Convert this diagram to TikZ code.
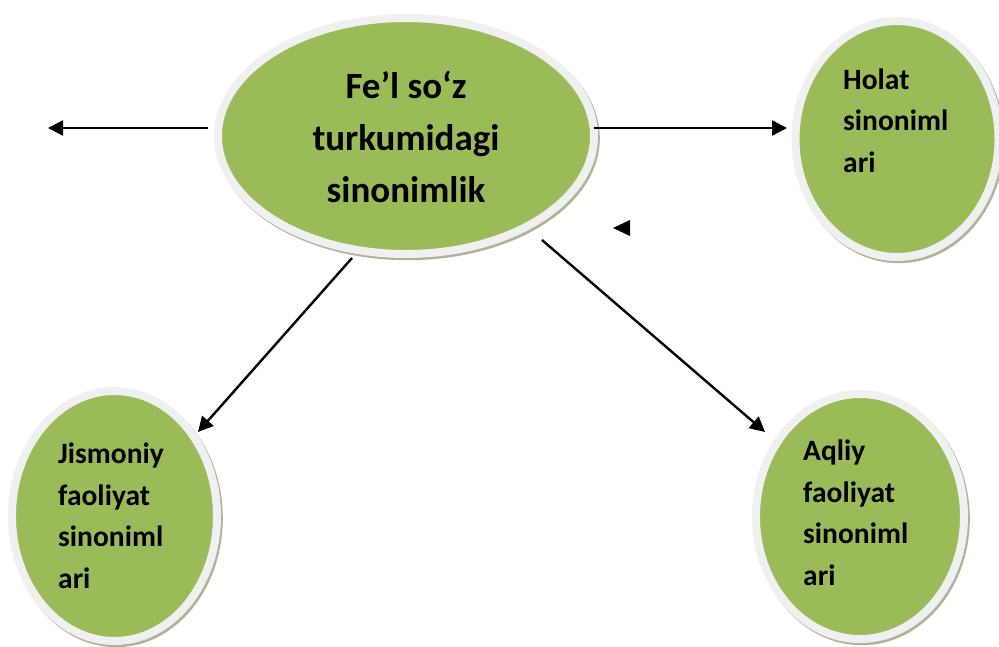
\documentclass[tikz,border=0pt]{standalone}
\usepackage{fontspec}
\setmainfont{Carlito}
\usetikzlibrary{arrows.meta,calc,shadows,shapes.geometric}
\definecolor{bubgreen}{HTML}{9BBB59}
\definecolor{bubrim}{HTML}{F0F0F0}
\definecolor{bubshadow}{HTML}{AEB39A}
\tikzset{
  bub/.style={ellipse, inner sep=0pt, fill=bubgreen, draw=bubrim, line width=8pt,
    drop shadow={shadow xshift=1.8pt, shadow yshift=-2.2pt, fill=bubshadow, draw=bubshadow, line width=8pt, opacity=1}},
  bigtxt/.style={font=\bfseries\fontsize{37}{52}\selectfont, align=center, inner sep=0pt, anchor=base},
  leaftxt/.style={font=\bfseries\fontsize{29.5}{41.5}\selectfont, align=left, inner sep=0pt, anchor=base west},
  arr/.style={line width=2.4pt, -{Triangle[length=15pt,width=15pt]}}
}
\begin{document}
\begin{tikzpicture}[x=1pt,y=-1pt]
\useasboundingbox (0,0) rectangle (999,646);
% bubbles
\node[bub, minimum width=376pt, minimum height=236pt] (c) at (406,136) {};
\node[bub, minimum width=203pt, minimum height=236pt] (holat) at (897,139) {};
\node[bub, minimum width=205pt, minimum height=250pt] (jis) at (114.5,516) {};
\node[bub, minimum width=208pt, minimum height=245pt] (aql) at (860,516.5) {};
% texts (base anchor = baseline of last line)
\node[bigtxt] (ct) at (406,202) {Fe’l so‘z\\turkumidagi\\sinonimlik};
\node[leaftxt] (ht) at (843,172) {Holat\\sinoniml\\ari};
\node[leaftxt] (jt) at (58,588) {Jismoniy\\faoliyat\\sinoniml\\ari};
\node[leaftxt] (at) at (803,585) {Aqliy\\faoliyat\\sinoniml\\ari};
% connectors
\coordinate (lend) at (48,128);
\draw[arr] ($(c)+(-198,-8)$) -- (lend);
\draw[arr] ($(c)+(188,-8)$) -- ($(holat)+(-110,-11)$);
\draw[arr] ($(c)+(-54,122)$) -- ($(jis)+(83.5,-84)$);
\draw[arr] ($(c)+(136,104)$) -- ($(aql)+(-95,-84.5)$);
% lone arrowhead
\fill (613,228) -- (630,220) -- (630,236) -- cycle;
\end{tikzpicture}
\end{document}
